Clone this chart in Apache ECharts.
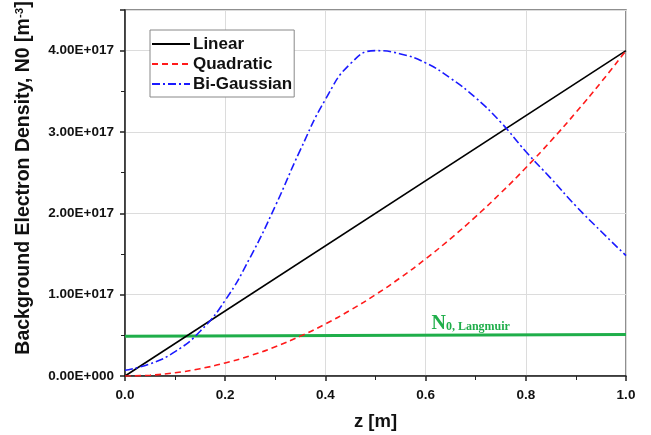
<!DOCTYPE html>
<html><head><meta charset="utf-8">
<script src="https://cdn.jsdelivr.net/npm/echarts@6/dist/echarts.min.js"></script>
<style>html,body{margin:0;padding:0;background:#fff}#c{width:651px;height:435px}</style>
</head><body><div id="c"></div>
<script>
const zLinear = [0, 1.0];
const linearVals = [0, 4.0e17];
const zStep = [0,0.05,0.1,0.15,0.2,0.25,0.3,0.35,0.4,0.45,0.5,0.55,0.6,0.65,0.7,0.75,0.8,0.85,0.9,0.95,1.0];
const quadraticVals = [0,0.01e17,0.04e17,0.09e17,0.16e17,0.25e17,0.36e17,0.49e17,0.64e17,0.81e17,1.0e17,1.21e17,1.44e17,1.69e17,1.96e17,2.25e17,2.56e17,2.89e17,3.24e17,3.61e17,4.0e17];
const biGaussVals = [0.07e17,0.15e17,0.30e17,0.55e17,0.93e17,1.46e17,2.09e17,2.78e17,3.40e17,3.84e17,4.00e17,3.96e17,3.85e17,3.66e17,3.42e17,3.12e17,2.76e17,2.43e17,2.09e17,1.78e17,1.48e17];
const zLangmuir = [0, 1.0];
const langmuirVals = [0.49e17, 0.51e17];
const yTickValues = [0, 1e17, 2e17, 3e17, 4e17];
const yTickLabels = ['0.00E+000','1.00E+017','2.00E+017','3.00E+017','4.00E+017'];
const xTickLabels = ['0.0','0.2','0.4','0.6','0.8','1.0'];

const pairs = (xs, ys) => xs.map((x, i) => [x, ys[i]]);
const chart = echarts.init(document.getElementById('c'));
const FONT = 'Liberation Sans, Arial, sans-serif';
const SERIF = 'Liberation Serif, Times New Roman, serif';
chart.setOption({
  animation: false,
  grid: {left: 125, right: 25, top: 10, bottom: 59, show: true, borderColor: '#6b6b6b', borderWidth: 1.5,
    outerBoundsMode: 'none', containLabel: false},
  legend: {
    left: 150, top: 30, orient: 'vertical', itemGap: 2, itemWidth: 38, itemHeight: 14,
    padding: [5, 2, 4, 1], borderColor: '#888', borderWidth: 1, backgroundColor: '#fff',
    itemStyle: {color: 'rgba(0,0,0,0)', borderWidth: 0, opacity: 0},
    textStyle: {fontFamily: FONT, fontWeight: 'bold', fontSize: 17, color: '#111', padding: [0,0,0,-2], lineHeight: 18},
    data: ['Linear', 'Quadratic', 'Bi-Gaussian']
  },
  graphic: [{
    type: 'text', x: 24, y: 178, rotation: Math.PI / 2,
    style: {
      text: '{a|Background Electron Density, N0 [m}{s|-3}{a|]}',
      align: 'center', verticalAlign: 'middle',
      rich: {
        a: {fontFamily: FONT, fontWeight: 'bold', fontSize: 19.5, fill: '#111', color: '#111'},
        s: {fontFamily: FONT, fontWeight: 'bold', fontSize: 11.5, fill: '#111', color: '#111', verticalAlign: 'top', padding: [0,0,9,0]}
      }
    }
  }],
  xAxis: {
    type: 'value', min: 0, max: 1, interval: 0.2,
    name: 'z [m]', nameLocation: 'middle', nameGap: 36,
    nameTextStyle: {fontFamily: FONT, fontWeight: 'bold', fontSize: 18.5, color: '#111'},
    axisLine: {lineStyle: {color: '#222', width: 1.5}},
    axisTick: {show: true, length: 5, lineStyle: {color: '#222', width: 1.5}},
    minorTick: {show: true, splitNumber: 2, length: 4, lineStyle: {color: '#222', width: 1}},
    axisLabel: {fontFamily: FONT, fontWeight: 'bold', fontSize: 13.5, color: '#111', margin: 12,
      formatter: v => xTickLabels[Math.round(v / 0.2)]},
    splitLine: {show: true, lineStyle: {color: '#dcdcdc', width: 1}}
  },
  yAxis: {
    type: 'value', min: 0, max: 4.5e17, interval: 1e17,
    axisLine: {show: true, lineStyle: {color: '#222', width: 1.5}},
    axisTick: {show: true, length: 5, lineStyle: {color: '#222', width: 1.5}},
    minorTick: {show: true, splitNumber: 2, length: 4, lineStyle: {color: '#222', width: 1}},
    axisLabel: {fontFamily: FONT, fontWeight: 'bold', fontSize: 13.5, color: '#111', margin: 11,
      formatter: v => { const i = yTickValues.indexOf(v); return i >= 0 ? yTickLabels[i] : ''; }},
    splitLine: {show: true, lineStyle: {color: '#dcdcdc', width: 1}}
  },
  series: [
    {name: 'N0 Langmuir', type: 'line', symbol: 'none', data: pairs(zLangmuir, langmuirVals),
      lineStyle: {color: '#1fae4a', width: 3}, z: 1,
      markPoint: {symbol: 'circle', symbolSize: 0, silent: true,
        data: [{coord: [0.69, 0.5e17]}],
        label: {show: true, position: 'top', distance: 2, formatter: '{n|N}{s|0, Langmuir}',
          rich: {
            n: {fontFamily: SERIF, fontWeight: 'bold', fontSize: 20, color: '#1fae4a'},
            s: {fontFamily: SERIF, fontWeight: 'bold', fontSize: 12, color: '#1fae4a', verticalAlign: 'bottom', padding: [7,0,0,0]}
          }}}},
    {name: 'Linear', type: 'line', symbol: 'none', data: pairs(zLinear, linearVals),
      lineStyle: {color: '#000', width: 1.6}, itemStyle: {color: '#000'}, z: 3},
    {name: 'Quadratic', type: 'line', symbol: 'none', smooth: true, data: pairs(zStep, quadraticVals),
      lineStyle: {color: '#ff1a1a', width: 1.6, type: [6, 4]}, itemStyle: {color: '#ff1a1a'}, z: 3},
    {name: 'Bi-Gaussian', type: 'line', symbol: 'none', smooth: true, data: pairs(zStep, biGaussVals),
      lineStyle: {color: '#1a1aff', width: 1.6, type: [8, 3, 2, 3]}, itemStyle: {color: '#1a1aff'}, z: 3}
  ]
});
</script></body></html>
